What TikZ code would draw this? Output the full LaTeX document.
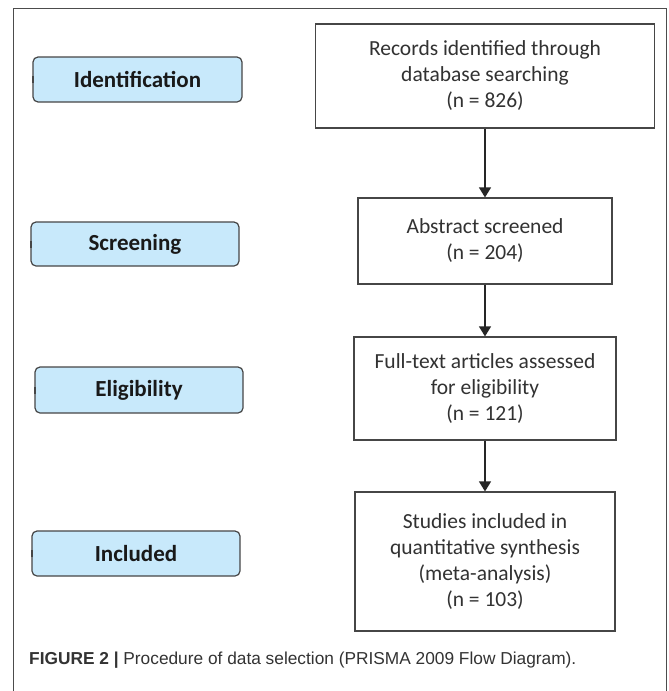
\documentclass[tikz,border=0pt]{standalone}
\usepackage{fontspec}
\setmainfont{Carlito}
\newfontfamily\capfont{Liberation Sans}
\usetikzlibrary{arrows.meta}
\definecolor{labfill}{RGB}{200,233,251}
\definecolor{edgegray}{RGB}{70,70,70}
\definecolor{txtgray}{RGB}{50,50,50}
\tikzset{
  rbox/.style={draw=edgegray, line width=1.2pt, fill=white, align=center,
    font=\fontsize{21.5}{26}\selectfont, text=txtgray, inner sep=0pt},
  lbox/.style={draw=edgegray, line width=1.2pt, fill=labfill, rounded corners=5pt,
    font=\fontsize{23}{26}\selectfont\bfseries, text=black!90, inner sep=0pt,
    minimum height=45pt},
  flow/.style={draw=black!85, line width=1.2pt, -{Triangle[length=10pt,width=12pt]}},
  ticky/.style={draw=edgegray, line width=2pt},
  frame/.style={draw=black!70, line width=1pt}
}
\begin{document}
\begin{tikzpicture}[x=1pt,y=-1pt]
\useasboundingbox (0,0) rectangle (669,691);
\fill[white] (0,0) rectangle (669,691);
\draw[frame] (13.5,700) -- (13.5,8.5) -- (666.5,8.5) -- (666.5,700);

% right column
\node[rbox, minimum width=339pt, minimum height=104pt] (rec) at (485,76)
  {Records identified through\\database searching\\(n = 826)};
\node[rbox, minimum width=254pt, minimum height=86pt] (abs) at (485,241)
  {Abstract screened\\(n = 204)};
\node[rbox, minimum width=262pt, minimum height=103pt] (full) at (485,388.5)
  {Full-text articles assessed\\for eligibility\\(n = 121)};
\node[rbox, minimum width=260pt, minimum height=139pt] (stud) at (485,561.5)
  {Studies included in\\quantitative synthesis\\(meta-analysis)\\(n = 103)};

\draw[flow] (rec) -- (abs);
\draw[flow] (abs) -- (full);
\draw[flow] (full) -- (stud);

% left column
\node[lbox, minimum width=209pt] (ident) at (137.5,79.5) {Identification};
\node[lbox, minimum width=208pt, minimum height=44pt] (scr) at (135,244) {Screening};
\node[lbox, minimum width=208pt, minimum height=46pt] (elig) at (139,390) {Eligibility};
\node[lbox, minimum width=208pt] (incl) at (136,553.5) {Included};

\foreach \n in {ident,scr,elig,incl}{
  \draw[ticky] ([yshift=-3.5pt,xshift=0.8pt]\n.west) -- ([yshift=3.5pt,xshift=0.8pt]\n.west);
}

% caption
\node[anchor=west, inner sep=0pt, font=\capfont\fontsize{17.3}{21}\selectfont, text=black!80] (cap) at (29,660)
  {\textbf{FIGURE 2 |} Procedure of data selection (PRISMA 2009 Flow Diagram).};
\end{tikzpicture}
\end{document}
